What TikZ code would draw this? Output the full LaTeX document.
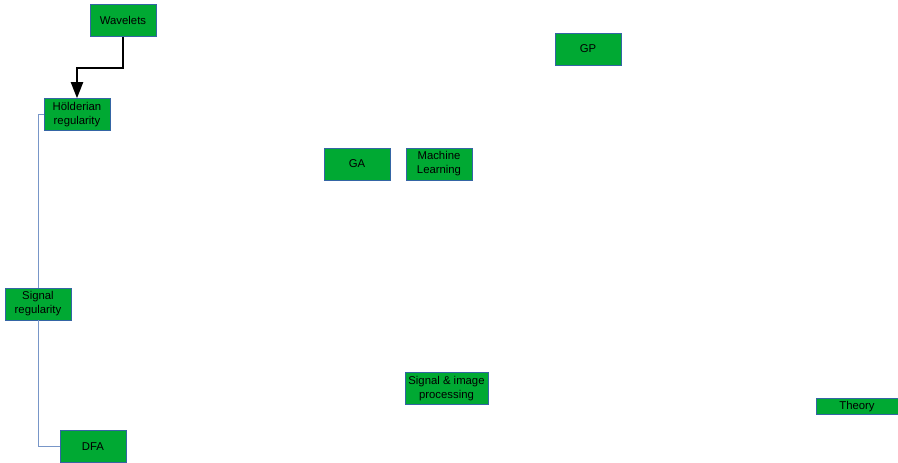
\documentclass[tikz,border=0pt]{standalone}
\usepackage{fontspec}
\setmainfont{Liberation Sans}
\definecolor{boxgreen}{RGB}{0,169,51}
\definecolor{boxblue}{RGB}{52,101,164}
\definecolor{linkblue}{RGB}{120,150,200}
\usetikzlibrary{arrows.meta,positioning}

\begin{document}
\begin{tikzpicture}[x=0.75pt,y=-0.75pt,>={Triangle[length=12pt,width=9pt]}]
  \tikzstyle{topic}=[rectangle,draw=boxblue,fill=boxgreen,minimum width=49.5pt,minimum height=24pt,inner sep=1pt,align=center,font=\fontsize{8.5}{10.5}\selectfont]
  \useasboundingbox (0,0) rectangle (898,463);

  \node[topic] (wav) at (123,20.5) {Wavelets};
  \node[topic] (hold) at (77,114.5) {Hölderian\\regularity};
  \node[topic] (gp) at (588,49) {GP};
  \node[topic] (ga) at (357,164) {GA};
  \node[topic] (ml) at (439,164) {Machine\\Learning};
  \node[topic] (sreg) at (38,304) {Signal\\regularity};
  \node[topic,minimum width=62pt] (sip) at (446.5,388.5) {Signal \& image\\processing};
  \node[topic,minimum width=61.5pt,minimum height=12pt] (theo) at (857,406.5) {Theory};
  \node[topic] (dfa) at (93,446.5) {DFA};

  \draw[->,line width=1.5pt] (wav.south) -- ++(0,31) -| (hold.north);
  \draw[linkblue,line width=0.75pt] (hold.west) -| (sreg.north);
  \draw[linkblue,line width=0.75pt] (sreg.south) |- (dfa.west);
\end{tikzpicture}
\end{document}
